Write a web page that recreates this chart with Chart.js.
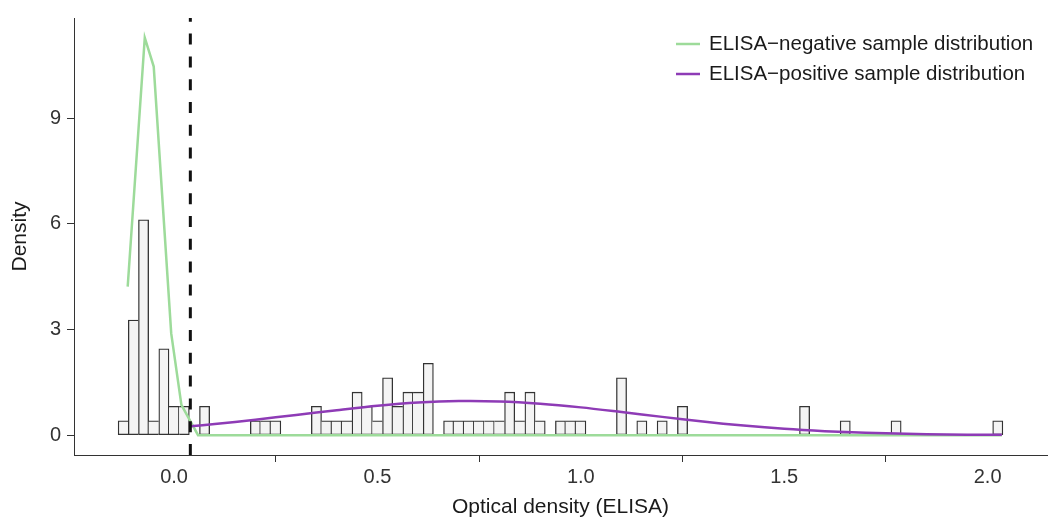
<!DOCTYPE html>
<html>
<head>
<meta charset="utf-8">
<script src="https://cdn.jsdelivr.net/npm/chart.js@4/dist/chart.umd.min.js"></script>
<style>
  html, body { margin: 0; padding: 0; background: #fff; }
  #wrap { width: 1049px; height: 518px; }
</style>
</head>
<body>
<div id="wrap"><canvas id="elisaChart" width="1049" height="518"></canvas></div>
<script>
// histogram bins (mid points, bin width 0.025) and their density heights
const BIN_WIDTH = 0.025;
const binMids = [-0.125, -0.1, -0.075, -0.05, -0.025, 0, 0.025, 0.075,
    0.2, 0.225, 0.25,
    0.35, 0.375, 0.4, 0.425, 0.45, 0.475, 0.5, 0.525, 0.55, 0.575, 0.6, 0.625,
    0.675, 0.7, 0.725, 0.75, 0.775, 0.8, 0.825, 0.85, 0.875, 0.9,
    0.95, 0.975, 1.0,
    1.1, 1.15, 1.2, 1.25,
    1.55, 1.65, 1.775, 2.025];
const binDensity = [0.41, 3.27, 6.12, 0.41, 2.45, 0.82, 0.82, 0.82,
    0.41, 0.41, 0.41,
    0.82, 0.41, 0.41, 0.41, 1.22, 0.82, 0.41, 1.63, 0.82, 1.22, 1.22, 2.04,
    0.41, 0.41, 0.41, 0.41, 0.41, 0.41, 1.22, 0.41, 1.22, 0.41,
    0.41, 0.41, 0.41,
    1.63, 0.41, 0.41, 0.82,
    0.82, 0.41, 0.41, 0.41];

// ELISA-negative fitted density (green)
const negX = [-0.114, -0.072, -0.050, -0.007, 0.018, 0.059, 2.035];
const negY = [4.22, 11.29, 10.47, 2.89, 0.86, 0.0, 0.0];

// ELISA-positive fitted density (purple)
const posX = [0.04, 0.1, 0.2, 0.3, 0.4, 0.5, 0.6, 0.7, 0.8, 0.9, 1.0, 1.1, 1.2, 1.3,
    1.4, 1.5, 1.6, 1.7, 1.8, 1.9, 2.0, 2.035];
const posY = [0.25, 0.315, 0.44, 0.575, 0.71, 0.835, 0.925, 0.967, 0.956, 0.893, 0.789,
    0.657, 0.519, 0.386, 0.272, 0.18, 0.114, 0.067, 0.038, 0.02, 0.01, 0.008];

const CUTOFF = 0.04;
const X_MIN = -0.246, X_MAX = 2.146;
const Y_MIN = -0.564, Y_MAX = 11.85;
const xTicks = [0, 0.5, 1.0, 1.5, 2.0];
const yTicks = [0, 3, 6, 9];

const FONT = "'Liberation Sans', Arial, Helvetica, sans-serif";
const INK = '#333333';
const EDGE = 1.3;

const pts = (xs, ys) => xs.map((x, i) => ({ x: x, y: ys[i] }));

// shared edges of neighbouring bars are drawn once, by the taller bar
function barBorder(ctx) {
    const i = ctx.dataIndex;
    if (i === undefined) return EDGE;
    const h = binDensity[i];
    const adj = j => j >= 0 && j < binMids.length && Math.abs(Math.abs(binMids[j] - binMids[i]) - BIN_WIDTH) < 1e-6;
    const prev = adj(i - 1) ? binDensity[i - 1] : 0;
    const next = adj(i + 1) ? binDensity[i + 1] : 0;
    return { top: EDGE, bottom: EDGE, left: prev < h ? EDGE : 0, right: next <= h ? EDGE : 0 };
}

// legend box in the top right corner, negative first
const legendPlugin = {
    id: 'sideLegend',
    afterDraw(chart) {
        const ctx = chart.ctx;
        const items = chart.data.datasets.filter(d => d.legendRank).sort((a, b) => a.legendRank - b.legendRank);
        ctx.save();
        items.forEach((d, i) => {
            const y = 44 + i * 30;
            ctx.strokeStyle = d.borderColor;
            ctx.lineWidth = 2.5;
            ctx.beginPath();
            ctx.moveTo(676, y);
            ctx.lineTo(700, y);
            ctx.stroke();
            ctx.fillStyle = '#1a1a1a';
            ctx.font = '20.5px ' + FONT;
            ctx.textAlign = 'left';
            ctx.textBaseline = 'middle';
            ctx.fillText(d.label, 709, y);
        });
        ctx.restore();
    }
};

new Chart(document.getElementById('elisaChart'), {
    type: 'bar',
    data: {
        datasets: [
            {
                type: 'line',
                label: 'cutoff',
                data: [{ x: CUTOFF, y: Y_MIN }, { x: CUTOFF, y: Y_MAX }],
                borderColor: '#111111',
                borderWidth: 3,
                borderDash: [11, 11.8],
                pointRadius: 0,
                fill: false,
                order: 0
            },
            {
                type: 'line',
                label: 'ELISA\u2212positive sample distribution',
                legendRank: 2,
                data: pts(posX, posY),
                borderColor: '#8e3bb6',
                borderWidth: 2.5,
                pointRadius: 0,
                tension: 0.3,
                fill: false,
                order: 1
            },
            {
                type: 'line',
                label: 'ELISA\u2212negative sample distribution',
                legendRank: 1,
                data: pts(negX, negY),
                borderColor: '#9ddb9a',
                borderWidth: 2.5,
                pointRadius: 0,
                tension: 0,
                fill: false,
                order: 2
            },
            {
                type: 'bar',
                label: 'histogram',
                data: pts(binMids, binDensity),
                backgroundColor: '#f4f4f4',
                borderColor: '#333333',
                borderWidth: barBorder,
                borderSkipped: false,
                barPercentage: 1,
                categoryPercentage: 1,
                order: 3
            }
        ]
    },
    options: {
        responsive: false,
        animation: false,
        devicePixelRatio: 1,
        layout: { padding: { top: 17, right: 2, left: 0, bottom: 0 } },
        plugins: {
            legend: { display: false },
            tooltip: { enabled: false }
        },
        scales: {
            x: {
                type: 'linear',
                min: X_MIN,
                max: X_MAX,
                offset: false,
                afterFit: s => { s.height = 63; },
                afterBuildTicks: s => { s.ticks = xTicks.map(v => ({ value: v })); },
                ticks: {
                    autoSkip: false,
                    maxRotation: 0,
                    padding: 3,
                    color: INK,
                    font: { family: FONT, size: 20 },
                    callback: v => v.toFixed(1)
                },
                grid: { display: true, drawOnChartArea: false, drawTicks: true, tickLength: 7, color: INK, lineWidth: 1 },
                border: { display: true, color: INK, width: 1 },
                title: {
                    display: true,
                    text: 'Optical density (ELISA)',
                    color: '#1a1a1a',
                    font: { family: FONT, size: 21 },
                    padding: { top: 0, bottom: -2 }
                }
            },
            y: {
                type: 'linear',
                min: Y_MIN,
                max: Y_MAX,
                afterFit: s => { s.width = 74; },
                afterBuildTicks: s => { s.ticks = yTicks.map(v => ({ value: v })); },
                ticks: {
                    padding: 6,
                    color: INK,
                    font: { family: FONT, size: 20 },
                    callback: v => String(v)
                },
                grid: { display: true, drawOnChartArea: false, drawTicks: true, tickLength: 7, color: INK, lineWidth: 1 },
                border: { display: true, color: INK, width: 1 },
                title: {
                    display: true,
                    text: 'Density',
                    color: '#1a1a1a',
                    font: { family: FONT, size: 21 },
                    padding: { top: 8, bottom: 0 }
                }
            }
        }
    },
    plugins: [legendPlugin]
});
</script>
</body>
</html>
